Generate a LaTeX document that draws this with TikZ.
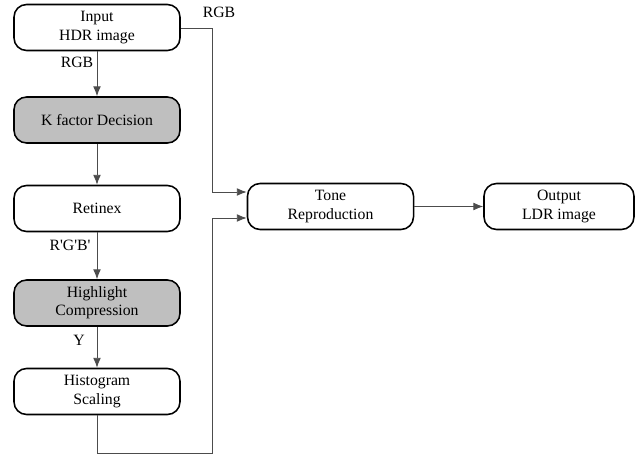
\documentclass[tikz,border=0pt]{standalone}
\usepackage{fontspec}
\setmainfont{Liberation Serif}
\usetikzlibrary{arrows.meta}
\tikzset{
	blk/.style={draw=black, line width=1.1pt, rounded corners=9pt, minimum width=4.15cm, minimum height=1.15cm, align=center, font=\fontsize{11.2}{13}\selectfont},
	gblk/.style={blk, fill=black!25},
	ln/.style={draw=black!70, line width=0.6pt},
	arr/.style={ln, -{Latex[length=7pt,width=5.5pt]}},
	lbl/.style={font=\fontsize{11.2}{13}\selectfont, inner sep=1pt}
}
\begin{document}
\begin{tikzpicture}[x=0.025cm, y=-0.025cm]
		\useasboundingbox (0,0) rectangle (640,457);
		\node[blk] at (97,27.5) (a) {Input\\HDR image};
		\node[gblk] at (97,120) (b) {K factor Decision};
		\node[blk] at (97,208.5) (c) {Retinex};
		\node[gblk] at (97,303) (d) {Highlight\\Compression};
		\node[blk] at (97,391.5) (e) {Histogram\\Scaling};
		\node[blk] at (330.5,206.5) (f) {Tone\\Reproduction};
		\node[blk, minimum width=3.75cm] at (559,206.5) (g) {Output\\LDR image};
		
		\coordinate (h) at (212,192);
		\coordinate (i) at (212,218);
		
		\draw[arr] (a) -- (b);
		\draw[arr] (b) -- (c);
		\draw[arr] (c) -- (d);
		\draw[arr] (d) -- (e);
		
		\draw[arr] (a.east |- 0,28) -| (h) -- (h -| f.west);
		\draw[arr] (e.south) |- (212,453) -- (i) -- (i -| f.west);
		\draw[arr] (f) -- (g);
		
		\node[lbl] at (219,12) {RGB};
		\node[lbl] at (77,62) {RGB};
		\node[lbl] at (70,245) {R\textquotesingle G\textquotesingle B\textquotesingle};
		\node[lbl] at (79,340) {Y};
	\end{tikzpicture}
\end{document}
